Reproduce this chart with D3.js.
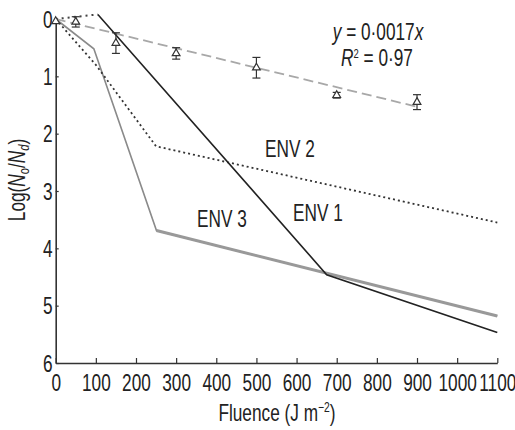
<!DOCTYPE html>
<html>
<head>
<meta charset="utf-8">
<script src="https://cdn.jsdelivr.net/npm/d3@7"></script>
<style>
  html, body { margin: 0; padding: 0; background: #fff; }
  svg text { font-family: "Liberation Sans", Arial, Helvetica, sans-serif; fill: #222; }
</style>
</head>
<body>
<svg id="chart" width="515" height="430"></svg>
<script>
// Survival curves: log reduction vs. UV fluence
const xTicks = [0, 100, 200, 300, 400, 500, 600, 700, 800, 900, 1000, 1100];
const yTicks = [0, 1, 2, 3, 4, 5, 6];

// ENV 1 (dark line; the first segment is the shoulder, drawn dotted)
const env1Fluence = [0, 105, 675, 1100];
const env1Log = [0, -0.08, 4.46, 5.47];

// ENV 2 (dotted line)
const env2Fluence = [0, 100, 250, 1100];
const env2Log = [0, 0.8, 2.22, 3.55];

// ENV 3 (grey line)
const env3Fluence = [0, 95, 251, 1100];
const env3Log = [0, 0.52, 3.69, 5.18];

// Measured points with error bars (open triangles) and their linear fit
const ptFluence = [0, 50, 150, 300, 500, 700, 900];
const ptLog = [0.04, 0.05, 0.42, 0.6, 0.85, 1.33, 1.45];
const ptErr = [0, 0.09, 0.18, 0.1, 0.18, 0.05, 0.13];
const fitSlope = 0.0017;
const fitFluence = [0, 900];

const svg = d3.select("#chart");
const SX = 0.75; // horizontal condensing of the lettering
const FS = 23;

const x = d3.scaleLinear().domain([0, 1100]).range([55.7, 497.3]);
const y = d3.scaleLinear().domain([0, 6]).range([19, 363]);

const line = d3.line().x(d => x(d[0])).y(d => y(d[1]));
const zip = (a, b) => a.map((v, i) => [v, b[i]]);

// Axes
const gx = svg.append("g").attr("transform", `translate(0,${y(6)})`)
  .call(d3.axisBottom(x).tickValues(xTicks).tickSize(-5).tickSizeOuter(0).tickPadding(12).tickFormat(d3.format("d")));
const gy = svg.append("g").attr("transform", `translate(${x(0)},0)`)
  .call(d3.axisLeft(y).tickValues(yTicks).tickSize(-3).tickSizeOuter(0).tickFormat(d3.format("d")));

[gx, gy].forEach(g => {
  g.select(".domain").attr("stroke", "#333").attr("stroke-width", 1.6);
  g.selectAll(".tick line").attr("stroke", "#333").attr("stroke-width", 1.2);
  g.selectAll(".tick text").attr("font-size", FS).attr("fill", "#222")
    .attr("font-family", "'Liberation Sans', Arial, sans-serif");
});
gx.selectAll(".tick text").attr("transform", `scale(${SX},1)`);
gy.selectAll(".tick text").attr("x", -3 / SX).attr("dy", "0.36em")
  .attr("transform", `scale(${SX},1)`);

// Fit line (dashed)
svg.append("path")
  .datum(fitFluence.map(f => [f, fitSlope * f]))
  .attr("d", line).attr("fill", "none")
  .attr("stroke", "#a8a8a8").attr("stroke-width", 1.8).attr("stroke-dasharray", "10,5");

// ENV 3
const env3 = zip(env3Fluence, env3Log);
svg.append("path").datum(env3).attr("d", line).attr("fill", "none")
  .attr("stroke", "#8a8a8a").attr("stroke-width", 1.6);
svg.append("path").datum(env3.slice(2)).attr("d", line).attr("fill", "none")
  .attr("stroke", "#999").attr("stroke-width", 3);

// ENV 2
svg.append("path").datum(zip(env2Fluence, env2Log)).attr("d", line).attr("fill", "none")
  .attr("stroke", "#333").attr("stroke-width", 1.8).attr("stroke-dasharray", "2,3");

// ENV 1
const env1 = zip(env1Fluence, env1Log);
svg.append("path").datum(env1.slice(0, 2)).attr("d", line).attr("fill", "none")
  .attr("stroke", "#444").attr("stroke-width", 2).attr("stroke-dasharray", "2,4");
svg.append("path").datum(env1.slice(1)).attr("d", line).attr("fill", "none")
  .attr("stroke", "#222").attr("stroke-width", 1.6);

// Error bars and triangles
const pts = ptFluence.map((f, i) => ({ f, v: ptLog[i], e: ptErr[i] }));
const gp = svg.append("g").attr("stroke", "#333").attr("fill", "none").attr("stroke-width", 1.2);
pts.filter(d => d.e > 0).forEach(d => {
  const cx = x(d.f), y0 = y(d.v - d.e), y1 = y(d.v + d.e);
  gp.append("line").attr("x1", cx).attr("x2", cx).attr("y1", y0).attr("y2", y1);
  gp.append("line").attr("x1", cx - 4).attr("x2", cx + 4).attr("y1", y0).attr("y2", y0);
  gp.append("line").attr("x1", cx - 4).attr("x2", cx + 4).attr("y1", y1).attr("y2", y1);
});
gp.selectAll("path.tri").data(pts).join("path")
  .attr("class", "tri")
  .attr("d", d3.symbol(d3.symbolTriangle, 26))
  .attr("transform", d => `translate(${x(d.f)},${y(d.v)})`)
  .attr("fill", "#fff");

// Text helper: condensed lettering anchored at (px, py)
function label(px, py, anchor) {
  return svg.append("text")
    .attr("transform", `translate(${px},${py}) scale(${SX},1)`)
    .attr("text-anchor", anchor || "start")
    .attr("font-size", FS);
}

label(265, 157).text("ENV 2");
label(293, 221).text("ENV 1");
label(197, 227).text("ENV 3");

// Regression equation
const eq = label(378, 40, "middle");
eq.append("tspan").attr("font-style", "italic").text("y");
eq.append("tspan").text(" = 0·0017");
eq.append("tspan").attr("font-style", "italic").text("x");
const r2 = label(377, 66, "middle");
r2.append("tspan").attr("font-style", "italic").text("R");
r2.append("tspan").attr("font-size", FS * 0.55).attr("dy", -8).text("2");
r2.append("tspan").attr("dy", 8).text(" = 0·97");

// Axis titles
const xt = label(277, 421, "middle");
xt.append("tspan").text("Fluence (J m");
xt.append("tspan").attr("font-size", FS * 0.6).attr("dy", -9).text("−2");
xt.append("tspan").attr("dy", 9).text(")");

const yt = svg.append("text")
  .attr("transform", `translate(25,180) rotate(-90) scale(${SX},1)`)
  .attr("text-anchor", "middle").attr("font-size", FS);
yt.append("tspan").text("Log(");
yt.append("tspan").attr("font-style", "italic").text("N");
yt.append("tspan").attr("font-size", FS * 0.65).attr("dy", 4).text("o");
yt.append("tspan").attr("dy", -4).text("/");
yt.append("tspan").attr("font-style", "italic").text("N");
yt.append("tspan").attr("font-size", FS * 0.65).attr("font-style", "italic").attr("dy", 4).text("d");
yt.append("tspan").attr("dy", -4).text(")");
</script>
</body>
</html>
